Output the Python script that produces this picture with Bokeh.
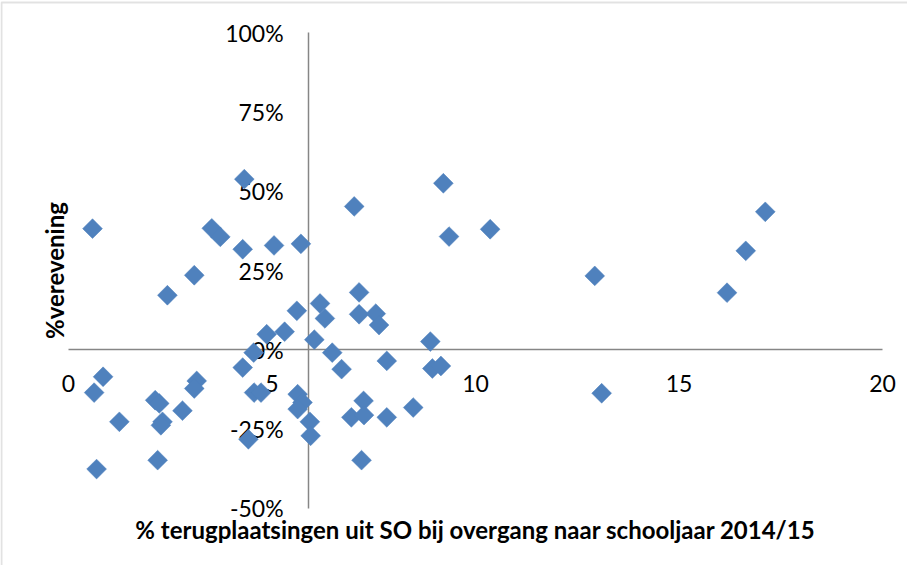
import numpy as np
from bokeh.plotting import figure
from bokeh.models import LinearAxis, FixedTicker, NumeralTickFormatter, BoxAnnotation, Range1d, Label
from bokeh.embed import file_html
from bokeh.resources import INLINE

# % terugplaatsingen uit SO (x) and % verevening (y, as fraction)
x_values = [0.59, 4.32, 3.52, 3.73, 4.28, 5.05, 5.71, 3.09, 2.43, 5.61, 4.87, 5.31,
            0.85, 0.63, 1.25, 0.69, 2.13, 2.23, 2.31, 2.27, 2.80, 3.15, 3.09, 2.19,
            4.28, 4.55, 4.56, 4.73, 4.42, 5.63, 5.75, 5.63, 6.04, 6.48, 6.71, 7.82,
            8.89, 8.94, 9.15, 5.93, 5.95, 7.25, 6.95, 7.26, 7.82, 8.47, 7.20, 9.21,
            7.02, 9.35, 10.36, 7.14, 6.18, 6.30, 7.14, 7.55, 7.63, 12.93, 13.10,
            16.18, 16.64, 17.12]
y_percent = [38.2, 53.8, 38.3, 35.6, 31.7, 32.9, 33.4, 23.5, 17.2, 12.3, 4.9, 5.7,
             -8.5, -13.5, -22.7, -37.6, -15.9, -16.9, -22.7, -23.8, -19.2, -9.8, -12.2, -34.8,
             -5.6, -0.9, -13.5, -13.5, -28.2, -14.0, -16.6, -18.7, 3.2, -0.9, -6.1, -3.5,
             2.6, -5.9, -5.1, -22.7, -27.1, -16.1, -21.3, -20.6, -21.3, -18.2, -34.8, 52.5,
             45.2, 35.7, 38.0, 18.1, 14.6, 9.9, 11.2, 11.4, 7.8, 23.3, -13.7,
             18.0, 31.2, 43.5]
y_values = [v / 100.0 for v in y_percent]

x_ticks = [0, 5, 10, 15, 20]
y_ticks = [-0.5, -0.25, 0, 0.25, 0.5, 0.75, 1.0]
x_title = "% terugplaatsingen uit SO bij overgang naar schooljaar 2014/15"
y_title = "%verevening"
y_cross = 5.9

FONT = "Lato"
AXIS_GRAY = "#868686"

# pixel layout (canvas coordinates): x=0 at 68px, 40.7 px per unit; y=0 at 349px, 317.2 px per unit
W, H = 907, 565
PX_X0, PX_PER_X = 68.0, 40.7
PX_Y0, PX_PER_Y = 349.3, 317.2
x_range = Range1d(-PX_X0 / PX_PER_X, (W - PX_X0) / PX_PER_X)
y_range = Range1d(-(H - PX_Y0) / PX_PER_Y, PX_Y0 / PX_PER_Y)

p = figure(width=W, height=H, output_backend="svg", toolbar_location=None,
           x_range=x_range, y_range=y_range,
           x_axis_location=None, y_axis_location=None,
           min_border_left=0, min_border_right=0, min_border_top=0, min_border_bottom=0)
p.outline_line_color = None
p.background_fill_color = "white"
p.border_fill_color = "white"
p.grid.visible = False

common = dict(major_tick_line_color=None, minor_tick_line_color=None,
              major_tick_out=0, minor_tick_out=0, major_tick_in=0, minor_tick_in=0,
              major_label_text_font=FONT, major_label_text_font_size="23px",
              major_label_text_color="black",
              axis_line_color=AXIS_GRAY, axis_line_width=1.5)

xax = LinearAxis(fixed_location=0, ticker=FixedTicker(ticks=x_ticks), bounds=(0, 20),
                 major_label_standoff=25, **common)
xax.level = "underlay"
p.add_layout(xax, "below")

yax = LinearAxis(fixed_location=y_cross, ticker=FixedTicker(ticks=y_ticks), bounds=(-0.5, 1.0),
                 formatter=NumeralTickFormatter(format="0%"),
                 major_label_standoff=25, **common)
yax.level = "underlay"
p.add_layout(yax, "left")

p.scatter(x_values, y_values, marker="square", size=14, angle=np.pi / 4,
          fill_color="#4F81BD", line_color="#4F81BD", line_width=0.5)

p.add_layout(Label(x=10, y=-0.5665, text=x_title, text_align="center", text_baseline="middle",
                   text_font=FONT, text_font_style="bold", text_font_size="24px",
                   text_color="black"))
p.add_layout(Label(x=-0.35, y=0.25, text=y_title, angle=np.pi / 2,
                   text_align="center", text_baseline="middle",
                   text_font=FONT, text_font_style="bold", text_font_size="24px",
                   text_color="black"))

border = BoxAnnotation(left=x_range.start + 1.0 / PX_PER_X, right=x_range.end + 5,
                       top=y_range.end - 2.0 / PX_PER_Y, bottom=y_range.start - 5,
                       fill_color=None, fill_alpha=0, line_color="#a0a0a0", line_width=2,
                       level="overlay")
p.add_layout(border)

open("out.html", "w").write(file_html(p, INLINE))
